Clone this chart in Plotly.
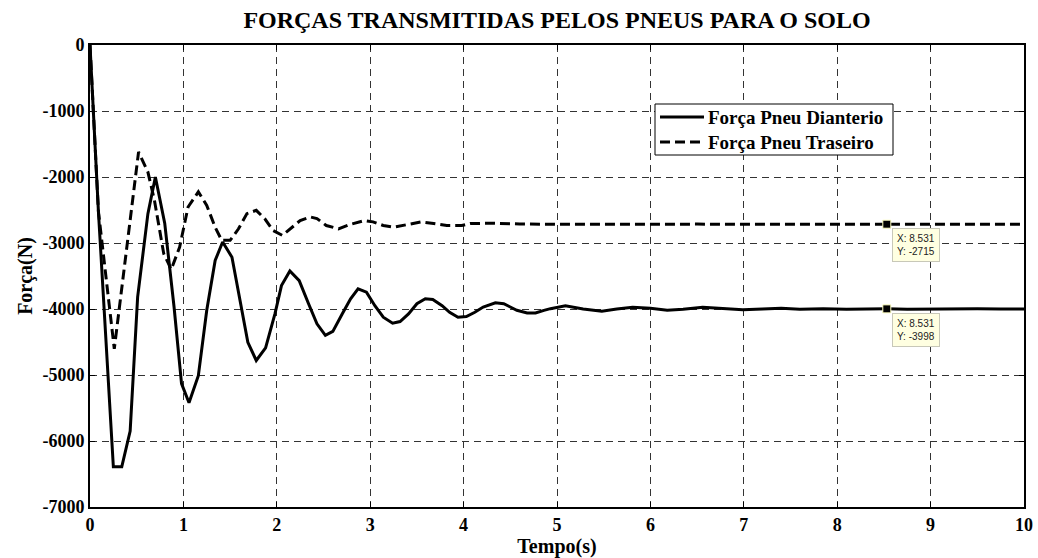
import plotly.graph_objects as go

# ---- data ----
t_front = [0, 0.09, 0.25, 0.34, 0.43, 0.51, 0.62, 0.70, 0.80, 0.90, 0.98, 1.06, 1.16, 1.25, 1.34,
           1.42, 1.52, 1.61, 1.69, 1.78, 1.88, 1.98, 2.05, 2.14, 2.24, 2.34, 2.43, 2.52, 2.60,
           2.70, 2.79, 2.87, 2.96, 3.05, 3.14, 3.24, 3.32, 3.41, 3.50, 3.59, 3.67, 3.77, 3.85,
           3.94, 4.03, 4.12, 4.21, 4.34, 4.43, 4.50, 4.57, 4.68, 4.77, 4.86, 4.93, 5.09, 5.28,
           5.48, 5.64, 5.81, 6.00, 6.18, 6.35, 6.56, 6.78, 6.99, 7.20, 7.40, 7.60, 7.85, 8.10,
           8.30, 8.531, 8.75, 9.00, 9.25, 9.50, 9.75, 10.0]
f_front = [0, -2520, -6390, -6390, -5850, -3820, -2555, -2000, -2700, -3970, -5130, -5420, -5010,
           -4020, -3265, -2985, -3215, -3870, -4505, -4780, -4590, -4075, -3645, -3425, -3570,
           -3920, -4225, -4400, -4340, -4075, -3845, -3695, -3745, -3950, -4125, -4215, -4190,
           -4075, -3920, -3845, -3855, -3950, -4050, -4125, -4115, -4050, -3970, -3905, -3920,
           -3970, -4020, -4060, -4060, -4020, -3995, -3950, -4000, -4035, -4000, -3975, -3990,
           -4020, -4005, -3975, -3995, -4010, -4000, -3990, -4005, -3995, -4002, -3996, -3998,
           -4002, -3997, -4001, -3998, -4000, -3999]

t_rear = [0, 0.09, 0.26, 0.40, 0.46, 0.52, 0.62, 0.69, 0.79, 0.87, 0.96, 1.05, 1.16, 1.25, 1.34,
          1.41, 1.50, 1.59, 1.68, 1.78, 1.87, 1.96, 2.06, 2.16, 2.25, 2.36, 2.43, 2.53, 2.66,
          2.78, 2.94, 3.03, 3.14, 3.25, 3.39, 3.55, 3.68, 3.82, 3.98, 4.07, 4.30, 4.60, 5.00,
          5.50, 6.00, 6.50, 7.00, 7.50, 8.00, 8.531, 9.00, 9.50, 10.0]
f_rear = [0, -2520, -4605, -3010, -2250, -1620, -1925, -2355, -3165, -3400, -3060, -2455, -2225,
          -2430, -2760, -2960, -2960, -2785, -2555, -2505, -2630, -2810, -2885, -2760, -2660,
          -2605, -2630, -2735, -2785, -2720, -2660, -2680, -2735, -2760, -2720, -2680, -2705,
          -2735, -2735, -2705, -2700, -2712, -2716, -2712, -2715, -2714, -2715, -2715, -2715,
          -2715, -2715, -2715, -2715]

series_names = ["Força Pneu Dianterio", "Força Pneu Traseiro"]

x_ticks = [0, 1, 2, 3, 4, 5, 6, 7, 8, 9, 10]
y_ticks = [0, -1000, -2000, -3000, -4000, -5000, -6000, -7000]
y_tick_labels = ["0", "-1000", "-2000", "-3000", "-4000", "-5000", "-6000", "-7000"]

tip_t = 8.531
tip_front = -3998
tip_rear = -2715

SERIF = "Liberation Serif"
L, R, T, B = 90, 14, 45, 51
W, H = 1038, 558
PW, PH = W - L - R, H - T - B


def px(xp):
    return (xp - L) / PW


def py(yp):
    return (H - B - yp) / PH


dashes = ["solid", "10px,5px"]

fig = go.Figure()
fig.add_trace(go.Scatter(x=t_front, y=f_front, mode="lines", name=series_names[0],
                         showlegend=False, line=dict(color="black", width=3, dash=dashes[0])))
fig.add_trace(go.Scatter(x=t_rear, y=f_rear, mode="lines", name=series_names[1],
                         showlegend=False, line=dict(color="black", width=3, dash=dashes[1])))
fig.add_trace(go.Scatter(x=[tip_t, tip_t], y=[tip_rear, tip_front], mode="markers",
                         showlegend=False, hoverinfo="skip",
                         marker=dict(symbol="square", size=8, color="black",
                                     line=dict(color="#ffffc0", width=1))))

for yv in (tip_rear, tip_front):
    fig.add_annotation(x=tip_t, y=yv, xref="x", yref="y", showarrow=False,
                       text=f"X: {tip_t}<br>Y: {yv}", align="left",
                       xanchor="left", yanchor="top", xshift=5, yshift=-4,
                       bgcolor="#ffffe1", bordercolor="#c8c8b8", borderwidth=1, borderpad=4,
                       font=dict(family="Liberation Sans", size=10, color="#222"))

# legend box (drawn in paper coordinates)
fig.add_shape(type="rect", xref="paper", yref="paper", x0=px(655), x1=px(893),
              y0=py(155), y1=py(104), line=dict(color="black", width=1),
              fillcolor="white", layer="above")
for i, name in enumerate(series_names):
    yrow = 117 + 25 * i
    fig.add_shape(type="line", xref="paper", yref="paper", x0=px(660), x1=px(704),
                  y0=py(yrow), y1=py(yrow), layer="above",
                  line=dict(color="black", width=3, dash=dashes[i]))
    fig.add_annotation(x=px(706), y=py(yrow), xref="paper", yref="paper", showarrow=False,
                       xanchor="left", yanchor="middle", text=name,
                       font=dict(family=SERIF, size=19, color="black", weight="bold"))

axis_common = dict(showline=True, linecolor="black", linewidth=2, mirror="ticks",
                   ticks="inside", ticklen=5, tickcolor="black", tickwidth=1,
                   showgrid=True, gridcolor="#333333", gridwidth=1, griddash="7px,5px",
                   zeroline=False,
                   tickfont=dict(family=SERIF, size=18, color="black", weight="bold"))

fig.update_layout(
    width=W, height=H, autosize=False,
    margin=dict(l=L, r=R, t=T, b=B, autoexpand=False),
    paper_bgcolor="white", plot_bgcolor="white",
    title=dict(text="FORÇAS TRANSMITIDAS PELOS PNEUS PARA O SOLO", x=0.5, xref="paper",
               y=1 - 20 / H, yref="container", yanchor="middle", xanchor="center",
               font=dict(family=SERIF, size=24, color="black", weight="bold")),
    xaxis=dict(range=[0, 10], tickvals=x_ticks, ticklabelstandoff=0,
               title=dict(text="Tempo(s)", standoff=5,
                          font=dict(family=SERIF, size=20, color="black", weight="bold")),
               **axis_common),
    yaxis=dict(range=[-7000, 0], tickvals=y_ticks, ticktext=y_tick_labels,
               title=dict(text="Força(N)", standoff=4,
                          font=dict(family=SERIF, size=20, color="black", weight="bold")),
               **axis_common),
    showlegend=False,
)

fig.write_html("out.html")
